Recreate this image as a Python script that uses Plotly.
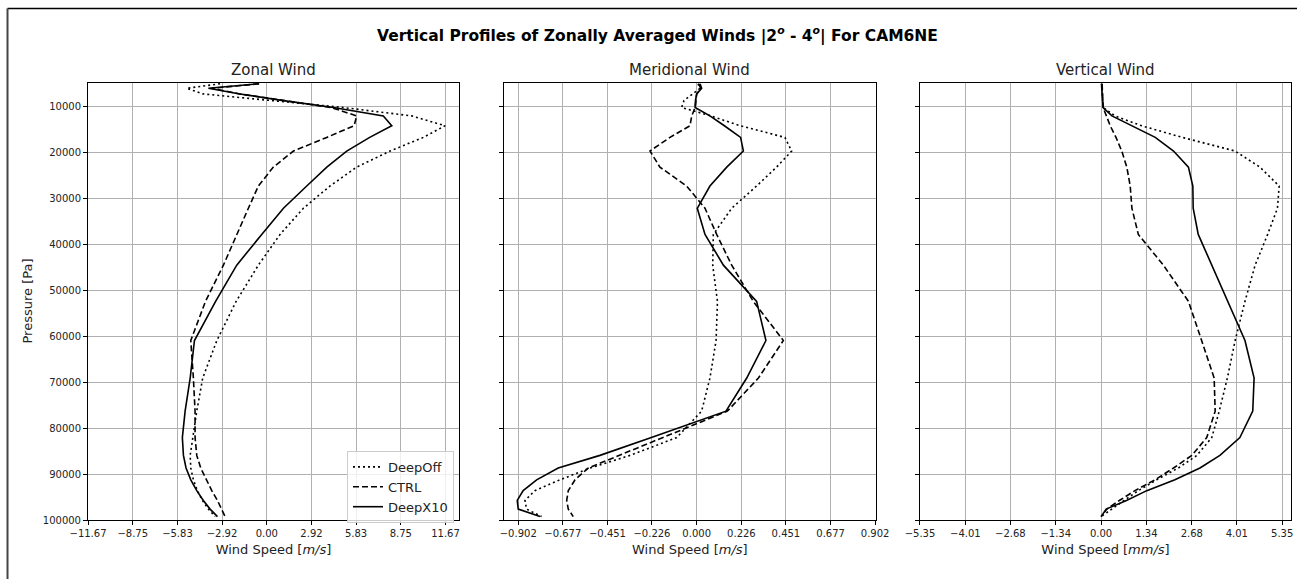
import plotly.graph_objects as go

# Model level mid-point pressures [Pa]
pressure = [5168, 6152, 7375, 8782, 10332, 12155, 14299, 16823, 19791, 23283,
            27391, 32224, 37910, 44599, 52469, 60978, 69139, 76340, 82086, 85953,
            88702, 91264, 93620, 95749, 97633, 99256]

# Zonal wind [m/s]
u_deepoff = [-3.05, -5.22, -4.16, 0.35, 5.0, 9.46, 11.64, 10.22, 8.05, 5.87,
             4.13, 2.39, 0.87, -0.55, -2.0, -3.26, -4.18, -4.57, -4.83, -5.0,
             -4.96, -4.79, -4.53, -4.2, -3.81, -3.37]
u_ctrl = [-0.5, -3.6, -1.76, 0.98, 4.2, 5.87, 5.70, 3.92, 1.74, 0.43,
          -0.55, -1.2, -1.96, -2.83, -4.0, -4.96, -4.79, -4.68, -4.68, -4.57,
          -4.31, -3.96, -3.59, -3.22, -2.94, -2.72]
u_deepx10 = [-0.5, -3.81, -1.76, 0.98, 4.35, 7.61, 8.16, 6.72, 5.22, 3.92,
             2.61, 1.09, -0.33, -1.96, -3.34, -4.72, -5.0, -5.33, -5.51, -5.44,
             -5.27, -4.96, -4.57, -4.14, -3.70, -3.22]

# Meridional wind [m/s]
v_deepoff = [0.007, 0.017, -0.02, -0.064, -0.076, 0.072, 0.22, 0.446, 0.48, 0.404,
             0.303, 0.177, 0.084, 0.081, 0.105, 0.098, 0.067, 0.025, -0.101, -0.337,
             -0.539, -0.691, -0.818, -0.868, -0.86, -0.784]
v_ctrl = [0.01, 0.02, 0.0, -0.005, -0.008, -0.025, -0.034, -0.135, -0.236, -0.186,
          -0.051, 0.042, 0.101, 0.177, 0.286, 0.438, 0.312, 0.155, -0.169, -0.388,
          -0.548, -0.615, -0.649, -0.657, -0.649, -0.624]
v_deepx10 = [0.017, 0.025, 0.0, -0.006, -0.008, 0.067, 0.14, 0.222, 0.236, 0.152,
             0.067, 0.003, 0.042, 0.135, 0.303, 0.350, 0.253, 0.148, -0.229, -0.489,
             -0.70, -0.809, -0.877, -0.907, -0.902, -0.792]

# Vertical wind [mm/s]
w_deepoff = [0.02, 0.03, 0.04, 0.05, 0.06, 0.41, 1.20, 2.4, 3.96, 4.69,
             5.26, 5.21, 4.92, 4.55, 4.25, 3.96, 3.73, 3.49, 3.27, 2.83,
             2.28, 1.64, 1.10, 0.68, 0.31, 0.0]
w_ctrl = [0.03, 0.04, 0.04, 0.05, 0.06, 0.15, 0.27, 0.44, 0.61, 0.76,
          0.86, 0.91, 1.10, 1.84, 2.58, 2.97, 3.34, 3.37, 3.12, 2.68,
          2.14, 1.59, 1.0, 0.54, 0.17, 0.0]
w_deepx10 = [0.01, 0.02, 0.03, 0.04, 0.06, 0.32, 0.91, 1.6, 2.14, 2.58,
             2.71, 2.72, 2.87, 3.27, 3.76, 4.25, 4.52, 4.48, 4.10, 3.51,
             2.92, 2.18, 1.35, 0.75, 0.15, 0.0]

panel_titles = ["Zonal Wind", "Meridional Wind", "Vertical Wind"]
x_titles = ["Wind Speed [<i>m/s</i>]", "Wind Speed [<i>m/s</i>]", "Wind Speed [<i>mm/s</i>]"]
series_names = ["DeepOff", "CTRL", "DeepX10"]

u_ticks = [-11.67, -8.75, -5.83, -2.92, 0.00, 2.92, 5.83, 8.75, 11.67]
u_ticklabels = ["\u221211.67", "\u22128.75", "\u22125.83", "\u22122.92", "0.00",
                "2.92", "5.83", "8.75", "11.67"]
v_ticks = [-0.902, -0.677, -0.451, -0.226, 0.000, 0.226, 0.451, 0.677, 0.902]
v_ticklabels = ["\u22120.902", "\u22120.677", "\u22120.451", "\u22120.226", "0.000",
                "0.226", "0.451", "0.677", "0.902"]
w_ticks = [-5.35, -4.01, -2.68, -1.34, 0.00, 1.34, 2.68, 4.01, 5.35]
w_ticklabels = ["\u22125.35", "\u22124.01", "\u22122.68", "\u22121.34", "0.00",
                "1.34", "2.68", "4.01", "5.35"]
p_ticks = [10000, 20000, 30000, 40000, 50000, 60000, 70000, 80000, 90000, 100000]
p_ticklabels = [str(t) for t in p_ticks]

x_ranges = [[-11.67, 12.55], [-0.974, 0.905], [-5.35, 5.61]]
domains = [[0.0, 0.3084], [0.3458, 0.6548], [0.6916, 1.0]]

dash_styles = ["2px,3px", "6px,3px", "solid"]
FONT = "DejaVu Sans, Arial, sans-serif"

fig = go.Figure()

panels = [
    (u_deepoff, u_ctrl, u_deepx10, u_ticks, u_ticklabels),
    (v_deepoff, v_ctrl, v_deepx10, v_ticks, v_ticklabels),
    (w_deepoff, w_ctrl, w_deepx10, w_ticks, w_ticklabels),
]

for i, (s_off, s_ctrl, s_x10, ticks, ticklabels) in enumerate(panels):
    idx = "" if i == 0 else str(i + 1)
    for name, xs, dash in zip(series_names, [s_off, s_ctrl, s_x10], dash_styles):
        fig.add_trace(go.Scatter(
            x=xs, y=pressure, mode="lines", name=name,
            line=dict(color="black", width=1.6, dash=dash),
            xaxis="x" + idx, yaxis="y" + idx,
            showlegend=(i == 0),
        ))
    fig.layout["xaxis" + idx] = dict(
        domain=domains[i], anchor="y" + idx, range=x_ranges[i], automargin=False,
        tickmode="array", tickvals=ticks, ticktext=ticklabels,
        showgrid=True, gridcolor="#b0b0b0", gridwidth=1, zeroline=False,
        showline=True, linecolor="black", linewidth=1, mirror=True,
        ticks="outside", ticklen=4, tickcolor="black",
        tickfont=dict(family=FONT, size=10, color="#222"),
        title=dict(text=x_titles[i], standoff=6,
                   font=dict(family=FONT, size=13, color="#222")),
    )
    fig.layout["yaxis" + idx] = dict(
        domain=[0, 1], anchor="x" + idx, range=[100000, 5000], automargin=False,
        tickmode="array", tickvals=p_ticks, ticktext=p_ticklabels,
        showticklabels=(i == 0),
        showgrid=True, gridcolor="#b0b0b0", gridwidth=1, zeroline=False,
        showline=True, linecolor="black", linewidth=1, mirror=True,
        ticks="outside", ticklen=4, tickcolor="black",
        tickfont=dict(family=FONT, size=10, color="#222"),
    )
    fig.add_annotation(
        text=panel_titles[i], xref="paper", yref="paper",
        x=sum(domains[i]) / 2, y=1.0, yshift=2, xanchor="center", yanchor="bottom",
        showarrow=False, font=dict(family=FONT, size=15, color="#222"),
    )

fig.add_annotation(
    text="<b>Vertical Profiles of Zonally Averaged Winds |2<sup><i>o</i></sup> - 4<sup><i>o</i></sup>| For CAM6NE</b>",
    xref="paper", yref="paper", x=0.473, y=1.11, xanchor="center", yanchor="middle",
    showarrow=False, font=dict(family=FONT, size=15.5, color="black"),
)
fig.add_annotation(
    text="Pressure [Pa]", xref="paper", yref="paper", x=-0.0507, y=0.5,
    xanchor="center", yanchor="middle", textangle=-90, showarrow=False,
    font=dict(family=FONT, size=13, color="#222"),
)

# Outer figure frame (top and left edges)
fig.add_shape(type="line", xref="paper", yref="paper",
              x0=-0.0669, x1=1.01, y0=1.1705, y1=1.1705,
              line=dict(color="black", width=1.5))
fig.add_shape(type="line", xref="paper", yref="paper",
              x0=-0.0669, x1=-0.0669, y0=-0.2, y1=1.1705,
              line=dict(color="#444", width=2))

fig.update_layout(
    width=1297, height=579, autosize=False,
    margin=dict(l=88, r=6, t=83, b=59),
    paper_bgcolor="white", plot_bgcolor="white",
    font=dict(family=FONT, color="#222"),
    legend=dict(
        x=0.2153, y=0.158, xanchor="left", yanchor="top",
        bgcolor="rgba(255,255,255,0.8)", bordercolor="#cccccc", borderwidth=1,
        font=dict(family=FONT, size=13, color="#222"),
        tracegroupgap=0, itemwidth=30,
    ),
)

fig.write_html(
    "out.html",
    config={"responsive": False},
    post_script="document.body.style.margin='0';document.body.style.overflow='hidden';",
)
